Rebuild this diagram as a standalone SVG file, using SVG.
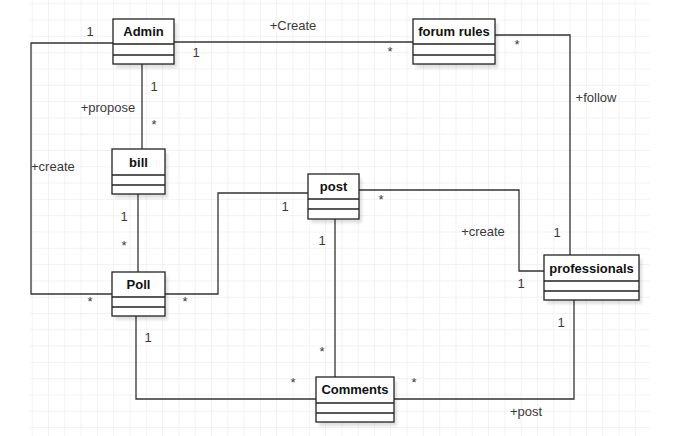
<svg xmlns="http://www.w3.org/2000/svg" width="680" height="436" viewBox="0 0 680 436">
<defs>
<pattern id="grid" x="31.7" y="3.3" width="16.3" height="16.3" patternUnits="userSpaceOnUse">
<path d="M0 0H16.3M0 0V16.3" fill="none" stroke="#e6e6e6" stroke-width="1"/>
</pattern>
<filter id="sh" x="-20%" y="-20%" width="150%" height="150%"><feGaussianBlur stdDeviation="1.5"/></filter>
</defs>
<style>
.box{fill:#fff;stroke:#222;stroke-width:1.3}
.div{stroke:#222;stroke-width:1.3}
.shadow{fill:#000;opacity:0.12;filter:url(#sh)}
.title{font-family:"Liberation Sans",Arial,sans-serif;font-size:13px;font-weight:bold;fill:#111;text-anchor:middle}
.lbl{font-family:"Liberation Sans",Arial,sans-serif;font-size:13px;fill:#3a3a3a}
.mid{text-anchor:middle}
.edge{fill:none;stroke:#333;stroke-width:1.3}
</style>
<rect x="0" y="0" width="680" height="436" fill="#fff"/>
<rect x="30" y="0" width="620" height="436" fill="url(#grid)"/>

<g id="connectors">
<path class="edge" d="M174 42H413"/>
<path class="edge" d="M113 43H31V294H112"/>
<path class="edge" d="M142 64V149"/>
<path class="edge" d="M138 194V272"/>
<path class="edge" d="M165 294H218V193H308"/>
<path class="edge" d="M359 190H519V271H544"/>
<path class="edge" d="M495 35H570V255"/>
<path class="edge" d="M335 219V377"/>
<path class="edge" d="M136 316V399H316"/>
<path class="edge" d="M574 300V399H394"/>
<text class="lbl mid" x="293" y="30">+Create</text>
<text class="lbl mid" x="196" y="57">1</text>
<text class="lbl mid" x="390" y="56">*</text>
<text class="lbl mid" x="90" y="36">1</text>
<text class="lbl" x="31" y="171">+create</text>
<text class="lbl mid" x="90" y="306">*</text>
<text class="lbl mid" x="154" y="91">1</text>
<text class="lbl mid" x="108" y="112">+propose</text>
<text class="lbl mid" x="154" y="129">*</text>
<text class="lbl mid" x="124" y="221">1</text>
<text class="lbl mid" x="124" y="250">*</text>
<text class="lbl mid" x="185" y="306">*</text>
<text class="lbl mid" x="285" y="211">1</text>
<text class="lbl mid" x="381" y="204">*</text>
<text class="lbl mid" x="483" y="236">+create</text>
<text class="lbl mid" x="521" y="288">1</text>
<text class="lbl mid" x="517" y="49">*</text>
<text class="lbl mid" x="596" y="102">+follow</text>
<text class="lbl mid" x="557" y="237">1</text>
<text class="lbl mid" x="322" y="245">1</text>
<text class="lbl mid" x="322" y="356">*</text>
<text class="lbl mid" x="148" y="342">1</text>
<text class="lbl mid" x="293" y="387">*</text>
<text class="lbl mid" x="561" y="327">1</text>
<text class="lbl mid" x="414" y="387">*</text>
<text class="lbl mid" x="526" y="416">+post</text>
</g>

<g id="admin">
<rect class="shadow" x="116" y="23" width="61" height="45"/>
<rect class="box" x="113" y="19" width="61" height="45"/>
<path class="div" d="M113 44H174M113 55H174"/>
<text class="title" x="143.5" y="36">Admin</text>
</g>
<g id="forum-rules">
<rect class="shadow" x="416" y="23" width="82" height="45"/>
<rect class="box" x="413" y="19" width="82" height="45"/>
<path class="div" d="M413 44H495M413 55H495"/>
<text class="title" x="454" y="36">forum rules</text>
</g>
<g id="bill">
<rect class="shadow" x="115" y="153" width="53" height="45"/>
<rect class="box" x="112" y="149" width="53" height="45"/>
<path class="div" d="M112 175H165M112 185H165"/>
<text class="title" x="138.5" y="167">bill</text>
</g>
<g id="poll">
<rect class="shadow" x="115" y="276" width="53" height="44"/>
<rect class="box" x="112" y="272" width="53" height="44"/>
<path class="div" d="M112 297H165M112 307H165"/>
<text class="title" x="138.5" y="289">Poll</text>
</g>
<g id="post">
<rect class="shadow" x="311" y="178" width="51" height="45"/>
<rect class="box" x="308" y="174" width="51" height="45"/>
<path class="div" d="M308 199H359M308 209H359"/>
<text class="title" x="333.5" y="191">post</text>
</g>
<g id="professionals">
<rect class="shadow" x="547" y="259" width="95" height="45"/>
<rect class="box" x="544" y="255" width="95" height="45"/>
<path class="div" d="M544 281H639M544 291H639"/>
<text class="title" x="591.5" y="273">professionals</text>
</g>
<g id="comments">
<rect class="shadow" x="319" y="381" width="78" height="45"/>
<rect class="box" x="316" y="377" width="78" height="45"/>
<path class="div" d="M316 403H394M316 413H394"/>
<text class="title" x="355" y="394">Comments</text>
</g>
</svg>
